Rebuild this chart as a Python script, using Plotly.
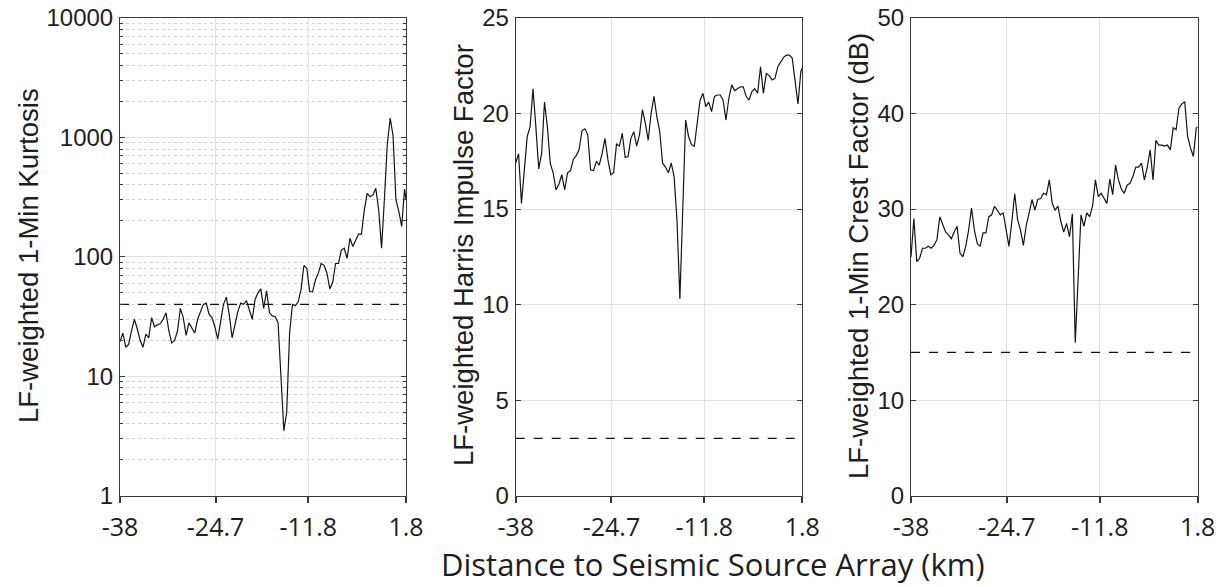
import plotly.graph_objects as go

# ---------------- data ----------------
distance_km = [
    -38.0, -37.6, -37.2, -36.8, -36.4, -36.0, -35.6, -35.2, -34.8, -34.4,
    -34.0, -33.6, -33.2, -32.8, -32.4, -32.0, -31.6, -31.2, -30.8, -30.4,
    -30.0, -29.6, -29.2, -28.8, -28.4, -28.0, -27.6, -27.2, -26.8, -26.4,
    -26.0, -25.6, -25.2, -24.8, -24.4, -24.0, -23.6, -23.2, -22.8, -22.4,
    -22.0, -21.6, -21.2, -20.8, -20.4, -20.0, -19.6, -19.2, -18.8, -18.4,
    -18.0, -17.6, -17.2, -16.8, -16.4, -16.0, -15.6, -15.2, -14.8, -14.4,
    -14.0, -13.6, -13.2, -12.8, -12.4, -12.0, -11.6, -11.2, -10.8, -10.4,
    -10.0, -9.6, -9.2, -8.8, -8.4, -8.0, -7.6, -7.2, -6.8, -6.4,
    -6.0, -5.6, -5.2, -4.8, -4.4, -4.0, -3.6, -3.2, -2.8, -2.4,
    -2.0, -1.6, -1.2, -0.8, -0.4, 0.0, 0.4, 0.8, 1.2, 1.6,
    1.8,
]

kurtosis = [
    19.5, 23, 17.5, 18.5, 24, 30, 25, 20, 17.5, 22.5,
    21, 31, 26, 27, 27.5, 30, 34, 24, 19, 20,
    24, 37, 31, 22, 28, 25, 23, 30, 35, 40,
    41, 33, 31, 26, 20.5, 30, 40, 46, 33, 21,
    28, 35, 41, 40, 43, 35, 30, 44, 50, 54,
    37, 52, 34, 32, 31.5, 28, 11, 3.5, 5.0, 23,
    40, 39, 42, 54, 85, 80, 51, 51, 64, 73,
    88, 85, 73, 54, 61, 88, 88, 114, 118, 97,
    143, 122, 138, 155, 155, 247, 340, 319, 330, 375,
    247, 118, 310, 880, 1450, 1030, 300, 240, 180, 370,
    300,
]

impulse = [
    17.4, 17.9, 15.3, 17.0, 18.8, 19.3, 21.3, 19.3, 17.1, 17.9,
    20.6, 19.3, 17.4, 16.9, 16.0, 16.3, 16.8, 16.0, 16.9, 17.0,
    17.6, 17.8, 18.1, 19.1, 19.2, 18.9, 17.05, 17.0, 17.5, 17.3,
    17.9, 18.7, 17.6, 16.8, 16.9, 18.4, 18.3, 18.97, 17.7, 17.75,
    18.7, 19.05, 18.3, 18.9, 20.2, 19.5, 18.6, 20.0, 20.9, 19.84,
    19.05, 17.4, 17.2, 16.9, 17.4, 16.7, 14.4, 10.3, 14.5, 19.66,
    18.8, 18.4, 18.27, 19.66, 20.7, 21.06, 20.36, 20.6, 20.1, 20.9,
    20.97, 20.97, 20.7, 19.66, 20.8, 21.5, 21.2, 21.3, 21.4, 21.4,
    20.9, 20.7, 21.15, 21.3, 21.06, 22.45, 21.06, 22.1, 22.0, 21.76,
    21.84, 22.45, 22.7, 22.94, 23.06, 23.06, 22.9, 21.76, 20.5, 22.2,
    22.4,
]

crest_db = [
    25.0, 29.0, 24.5, 24.85, 25.9, 25.9, 26.1, 25.9, 26.2, 26.8,
    29.2, 28.3, 27.6, 27.3, 26.9, 27.6, 28.2, 25.4, 25.0, 26.1,
    27.8, 30.1, 27.8, 26.4, 26.1, 27.5, 27.5, 29.2, 29.4, 30.3,
    29.9, 29.4, 29.6, 27.8, 26.1, 28.7, 31.6, 28.9, 27.8, 26.2,
    28.3, 29.6, 31.0, 29.9, 31.0, 31.1, 31.65, 31.5, 33.05, 30.6,
    29.9, 30.3, 28.7, 27.6, 28.5, 27.1, 29.5, 16.0, 23.3, 29.4,
    28.2, 29.6, 29.2, 30.3, 33.05, 31.3, 31.65, 31.1, 30.6, 33.15,
    31.5, 34.6, 33.05, 32.1, 31.65, 32.5, 32.7, 33.4, 34.4, 34.4,
    34.8, 33.05, 34.4, 36.2, 33.05, 37.2, 36.7, 36.7, 36.6, 36.7,
    36.2, 38.5, 38.3, 40.55, 41.0, 41.25, 37.6, 36.4, 35.5, 38.5,
    38.6,
]

x_tick_vals = [-38, -24.7, -11.8, 1.8]
x_tick_text = ["-38", "-24.7", "-11.8", "1.8"]
x_range = [-38, 1.8]

kurtosis_threshold = 40
impulse_threshold = 3
crest_threshold = 15

kurtosis_ticks = [1, 10, 100, 1000, 10000]
impulse_ticks = [0, 5, 10, 15, 20, 25]
crest_ticks = [0, 10, 20, 30, 40, 50]

y_titles = [
    "LF-weighted 1-Min Kurtosis",
    "LF-weighted Harris Impulse Factor",
    "LF-weighted 1-Min Crest Factor (dB)",
]
x_title = "Distance to Seismic Source Array (km)"

# ---------------- styling ----------------
W, H = 1222, 587
LINE_COL = "#3a3a3a"
GRID_COL = "#e2e2e2"
MINOR_COL = "#cfcfcf"
TXT_COL = "#1e1e1e"
ARIAL = "Liberation Sans, Arial, sans-serif"
SANS = "Open Sans, sans-serif"

# plot boxes in pixels (left, right), shared top/bottom
boxes = [(120, 406), (515.7, 802.3), (911, 1197.7)]
top_px, bot_px = 18, 495.7
ydom = [1 - bot_px / H, 1 - top_px / H]

fig = go.Figure()

series = [kurtosis, impulse, crest_db]
thresholds = [kurtosis_threshold, impulse_threshold, crest_threshold]
for i, (vals, thr) in enumerate(zip(series, thresholds)):
    xa = "x" if i == 0 else f"x{i+1}"
    ya = "y" if i == 0 else f"y{i+1}"
    fig.add_trace(go.Scatter(
        x=x_range, y=[thr, thr], xaxis=xa, yaxis=ya, mode="lines",
        line=dict(color="#111111", width=1.1, dash="dash"), showlegend=False,
        hoverinfo="skip"))
    fig.add_trace(go.Scatter(
        x=distance_km, y=vals, xaxis=xa, yaxis=ya, mode="lines",
        line=dict(color="#151515", width=1.2), showlegend=False))

common_x = dict(
    range=x_range, tickvals=x_tick_vals, ticktext=x_tick_text,
    showline=True, linecolor=LINE_COL, linewidth=1, mirror=True,
    ticks="outside", ticklen=6, tickcolor=LINE_COL, tickwidth=1.5,
    showgrid=True, gridcolor=GRID_COL, gridwidth=1, zeroline=False,
    tickfont=dict(family=SANS, size=25, color=TXT_COL),
    ticklabelstandoff=3, automargin=False,
)
common_y = dict(
    showline=True, linecolor=LINE_COL, linewidth=1, mirror="ticks",
    ticks="inside", ticklen=5, tickcolor=LINE_COL,
    showgrid=True, gridcolor=GRID_COL, gridwidth=1, zeroline=False,
    tickfont=dict(family=ARIAL, size=24, color=TXT_COL),
    ticklabelstandoff=1, automargin=False,
)

minor_vals = [m * 10 ** e for e in range(0, 4) for m in range(2, 10)]

layout = dict(
    width=W, height=H, margin=dict(l=0, r=0, t=0, b=0, autoexpand=False),
    paper_bgcolor="white", plot_bgcolor="white", showlegend=False,
)
for i, (l, r) in enumerate(boxes):
    key_x = "xaxis" if i == 0 else f"xaxis{i+1}"
    key_y = "yaxis" if i == 0 else f"yaxis{i+1}"
    anchor_y = "y" if i == 0 else f"y{i+1}"
    anchor_x = "x" if i == 0 else f"x{i+1}"
    layout[key_x] = dict(common_x, domain=[l / W, r / W], anchor=anchor_y)
    if i == 0:
        layout[key_y] = dict(
            common_y, type="log", range=[0, 4], tickvals=kurtosis_ticks,
            ticktext=[str(v) for v in kurtosis_ticks],
            domain=ydom, anchor=anchor_x,
            minor=dict(tickvals=minor_vals, showgrid=True, gridcolor=MINOR_COL,
                       griddash="dot", gridwidth=1, ticks="inside", ticklen=3,
                       tickcolor=LINE_COL))
    elif i == 1:
        layout[key_y] = dict(common_y, range=[0, 25], tickvals=impulse_ticks,
                             domain=ydom, anchor=anchor_x)
    else:
        layout[key_y] = dict(common_y, range=[0, 50], tickvals=crest_ticks,
                             domain=ydom, anchor=anchor_x)

fig.update_layout(**layout)

# axis titles as annotations
ytitle_x = [28, 463, 858]
ytitle_y = [256, 255, 256]
for t, xp, yp in zip(y_titles, ytitle_x, ytitle_y):
    fig.add_annotation(
        text=t, xref="paper", yref="paper", x=xp / W, y=1 - yp / H,
        xanchor="center", yanchor="middle", textangle=-90, showarrow=False,
        font=dict(family=ARIAL, size=27.5, color=TXT_COL))

fig.add_annotation(
    text=x_title, xref="paper", yref="paper", x=713 / W, y=1 - 564 / H,
    xanchor="center", yanchor="middle", showarrow=False,
    font=dict(family=SANS, size=31, color=TXT_COL))

fig.write_html("out.html",
               config={"displayModeBar": False},
               post_script="document.body.style.margin='0px';"
                           "document.body.style.overflow='hidden';")
